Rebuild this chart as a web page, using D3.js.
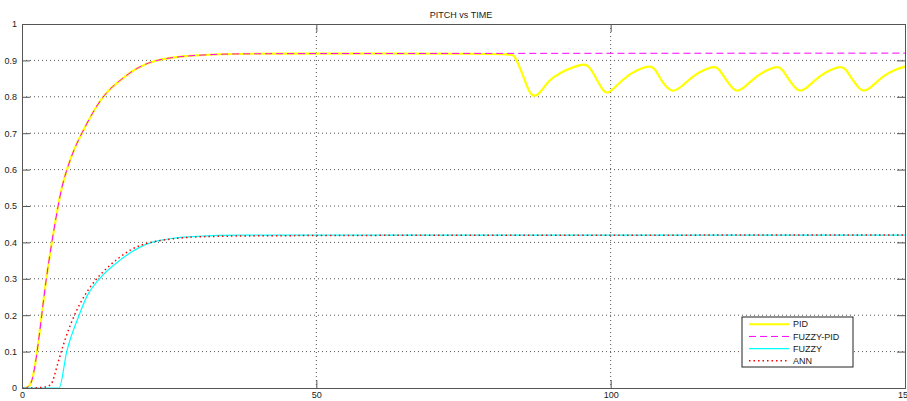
<html>
<head>
<script src="https://d3js.org/d3.v7.min.js"></script>
<style>
  body { margin: 0; background: #fff; }
  text { font-family: "Liberation Sans", Arial, sans-serif; }
</style>
</head>
<body>
<svg id="MAINSVG" width="907" height="401"></svg>
<script>
// values: [time, pitch]
var pid = [[0,0],[1.4,0],[2.0,0.04],[2.6,0.1],[3.35,0.2],[4.1,0.3],[5.05,0.4],[5.9,0.48],[6.7,0.55],[7.6,0.6],
  [8.8,0.655],[10.15,0.7],[11.85,0.752],[12.9,0.78],[14.0,0.805],[15.3,0.827],[16.7,0.846],[19.3,0.878],[22.3,0.9],[27,0.912],[33.7,0.9175],
  [40,0.919],[83.0,0.919],[83.6,0.915],[84.4,0.887],[85.3,0.851],[86.1,0.814],[87.0,0.798],[88.1,0.812],
  [89.5,0.846],[91.5,0.867],[93.8,0.883],[95.5,0.890],[96.3,0.886],[97.7,0.846],[98.6,0.819],
  [99.5,0.806],[100.9,0.830],[103.4,0.865],[105.1,0.878],[106.8,0.886],[107.7,0.874],
  [108.8,0.837],[110.5,0.810],[111.9,0.826],[114.2,0.860],[115.9,0.874],[117.6,0.884],
  [118.4,0.878],[119.6,0.846],[121.3,0.809],[122.7,0.826],[125.0,0.860],[126.7,0.874],
  [128.3,0.884],[129.1,0.878],[130.3,0.846],[132.0,0.809],[133.4,0.826],[135.7,0.860],
  [137.4,0.874],[139.1,0.884],[139.9,0.878],[141.1,0.846],[142.8,0.809],[144.2,0.826],
  [146.5,0.860],[148.2,0.874],[150,0.883]];
var fuzzyPid = [[0,0],[1.4,0],[2.0,0.04],[2.6,0.1],[3.35,0.2],[4.1,0.3],[5.05,0.4],[5.9,0.48],[6.7,0.55],[7.6,0.6],
  [8.8,0.655],[10.15,0.7],[11.85,0.752],[12.9,0.78],[14.0,0.805],[15.3,0.827],[16.7,0.846],[19.3,0.878],[22.3,0.9],[27,0.912],[33.7,0.9175],
  [40,0.919],[150,0.92]];
var fuzzy = [[0,0],[6.3,0],[7.6,0.1],[9.7,0.2],[11.0,0.251],[13.15,0.3],[16.7,0.352],
  [22.05,0.4],[28.9,0.416],[38,0.42],[150,0.42]];
var ann = [[0,0],[4.8,0],[5.3,0.02],[6.6,0.1],[8.7,0.2],[12.1,0.3],[17.9,0.379],[21.2,0.4],
  [26.9,0.414],[35,0.42],[150,0.42]];

var xTicks = [0, 50, 100, 150];
var yTicks = [0, 0.1, 0.2, 0.3, 0.4, 0.5, 0.6, 0.7, 0.8, 0.9, 1];
var legendNames = ["PID", "FUZZY-PID", "FUZZY", "ANN"];

var SVG = d3.select("#MAINSVG");
var pLeft = 22, pRight = 905, pTop = 24, pBottom = 388;

var x = d3.scaleLinear().domain([0, 150]).range([pLeft, pRight]);
var y = d3.scaleLinear().domain([0, 1]).range([pBottom, pTop]);

SVG.append("rect").attr("width", 907).attr("height", 401).attr("fill", "#fff");

// grid
SVG.append("g").selectAll("line").data(yTicks.slice(1, -1)).enter().append("line")
  .attr("x1", pLeft).attr("x2", pRight)
  .attr("y1", function(d){ return y(d); }).attr("y2", function(d){ return y(d); })
  .attr("stroke", "#555").attr("stroke-width", 1).attr("stroke-dasharray", "1,3");
SVG.append("g").selectAll("line").data(xTicks.slice(1, -1)).enter().append("line")
  .attr("y1", pTop).attr("y2", pBottom)
  .attr("x1", function(d){ return x(d); }).attr("x2", function(d){ return x(d); })
  .attr("stroke", "#555").attr("stroke-width", 1).attr("stroke-dasharray", "1,3");

SVG.append("defs").append("clipPath").attr("id", "plotclip")
  .append("rect").attr("x", pLeft).attr("y", pTop - 2).attr("width", pRight - pLeft).attr("height", pBottom - pTop + 2);

function makeLine(curve) {
  return d3.line()
    .x(function(d){ return x(d[0]); })
    .y(function(d){ return y(d[1]); })
    .curve(curve);
}

var series = [
  {data: pid, color: "#ffff00", width: 2.2, dash: null, curve: d3.curveBasis},
  {data: fuzzyPid, color: "#ff00ff", width: 1, dash: "7,4", curve: d3.curveBasis},
  {data: fuzzy, color: "#00ffff", width: 1.2, dash: null, curve: d3.curveMonotoneX},
  {data: ann, color: "#ff0000", width: 1.5, dash: "1.5,3", curve: d3.curveBasis}
];

var plot = SVG.append("g").attr("clip-path", "url(#plotclip)");
series.forEach(function(s){
  plot.append("path")
    .attr("d", makeLine(s.curve)(s.data))
    .attr("fill", "none")
    .attr("stroke", s.color)
    .attr("stroke-width", s.width)
    .attr("stroke-dasharray", s.dash);
});

// axes
function styleAxis(g) {
  g.selectAll("path").attr("stroke", "#555");
  g.selectAll("line").attr("stroke", "#555");
  g.selectAll("text").attr("fill", "#222").style("font-size", "9px")
    .style("font-family", "'Liberation Sans', Arial, sans-serif");
}
SVG.append("g").attr("transform", "translate(" + pLeft + ",0)")
  .call(d3.axisLeft(y).tickValues(yTicks).tickSize(-8).tickPadding(5)
    .tickFormat(function(d){ return d === 0 || d === 1 ? d3.format("d")(d) : d3.format(".1f")(d); }))
  .call(styleAxis);
SVG.append("g").attr("transform", "translate(" + pRight + ",0)")
  .call(d3.axisRight(y).tickValues(yTicks).tickSize(-8).tickFormat(""))
  .call(styleAxis);
SVG.append("g").attr("transform", "translate(0," + pBottom + ")")
  .call(d3.axisBottom(x).tickValues(xTicks).tickSize(-8).tickPadding(4).tickFormat(d3.format("d")))
  .call(styleAxis);
SVG.append("g").attr("transform", "translate(0," + pTop + ")")
  .call(d3.axisTop(x).tickValues(xTicks).tickSize(-8).tickFormat(""))
  .call(styleAxis);

// title
SVG.append("text").attr("x", 461).attr("y", 18).attr("text-anchor", "middle")
  .style("font-size", "9px").attr("fill", "#222").text("PITCH vs TIME");

// legend
var lg = SVG.append("g");
lg.append("rect").attr("x", 742).attr("y", 317).attr("width", 111).attr("height", 50)
  .attr("fill", "#fff").attr("stroke", "#222").attr("stroke-width", 1);
var rowY = d3.scalePoint().domain(legendNames).range([324.3, 360.7]);
legendNames.forEach(function(name, i){
  var s = series[i];
  lg.append("line").attr("x1", 749).attr("x2", 789)
    .attr("y1", rowY(name)).attr("y2", rowY(name))
    .attr("stroke", s.color).attr("stroke-width", i === 0 ? 2 : s.width)
    .attr("stroke-dasharray", s.dash);
  lg.append("text").attr("x", 793).attr("y", rowY(name)).attr("dy", "0.35em")
    .style("font-size", "9px").attr("fill", "#222").text(name);
});
</script>
</body>
</html>
